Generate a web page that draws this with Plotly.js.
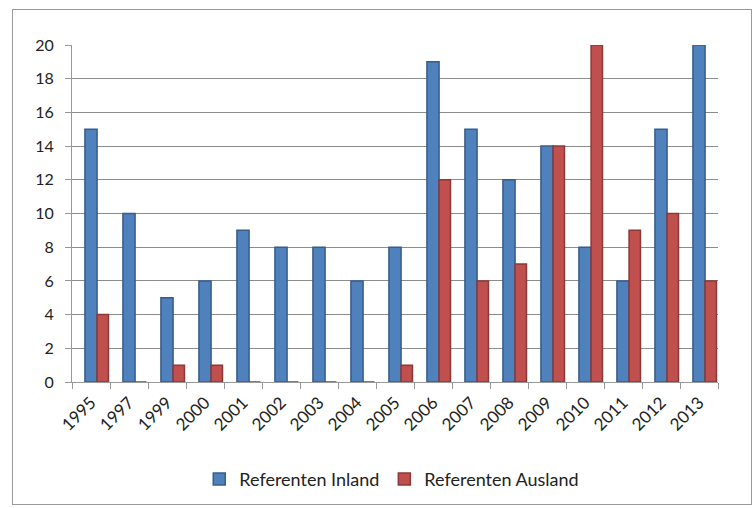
<!DOCTYPE html>
<html><head><meta charset="utf-8">
<script src="https://cdn.plot.ly/plotly-3.0.1.min.js"></script>
<style>
html,body{margin:0;padding:0;background:#fff;}
#wrap{position:relative;width:755px;height:508px;}
#chart{width:755px;height:508px;}
#frame{position:absolute;left:12px;top:9px;width:738px;height:494px;border:1px solid #9a9a9a;pointer-events:none;}
</style></head>
<body>
<div id="wrap"><div id="chart"></div><div id="frame"></div></div>
<script>
const years = ['1995','1997','1999','2000','2001','2002','2003','2004','2005','2006','2007','2008','2009','2010','2011','2012','2013'];
const inland = [15,10,5,6,9,8,8,6,8,19,15,12,14,8,6,15,20];
const ausland = [4,0,1,1,0,0,0,0,1,12,6,7,14,20,9,10,6];
const yTicks = [0,2,4,6,8,10,12,14,16,18,20];

const fam = 'Lato, "Open Sans", sans-serif';
const data = [
  {type:'bar', name:'Referenten Inland', x:years, y:inland, offset:-0.16, width:0.32,
   marker:{color:'#4F81BD', line:{color:'#385D8A', width:1.5}}},
  {type:'bar', name:'Referenten Ausland', x:years, y:ausland, offset:0.16, width:0.3,
   marker:{color:'#C0504D', line:{color:'#8C3836', width:1.5}}}
];
const layout = {
  width:755, height:508,
  margin:{l:72, r:37, t:45, b:125},
  paper_bgcolor:'#fff', plot_bgcolor:'#fff',
  font:{family:fam, size:16, color:'#222'},
  barmode:'group',
  showlegend:true,
  legend:{orientation:'h', x:0.495, xanchor:'center', y:-0.285, yanchor:'middle',
          font:{family:fam, size:18, color:'#222'}, itemwidth:12, traceorder:'normal'},
  xaxis:{type:'category', tickangle:-45, showgrid:false, showline:true, linecolor:'#999', linewidth:1,
         ticks:'outside', tickson:'boundaries', ticklen:6, tickcolor:'#999', ticklabelstandoff:3,
         tickfont:{family:fam, size:17, color:'#222'}},
  yaxis:{range:[0,20], tickvals:yTicks, ticktext:yTicks.map(String), showgrid:true, gridcolor:'#8c8c8c', gridwidth:1,
         showline:true, linecolor:'#999', ticks:'outside', ticklen:6, tickcolor:'#999', ticklabelstandoff:8,
         zeroline:false, tickfont:{family:fam, size:16, color:'#222'}}
};
Plotly.newPlot('chart', data, layout, {displayModeBar:false, staticPlot:true});
</script>
</body></html>
